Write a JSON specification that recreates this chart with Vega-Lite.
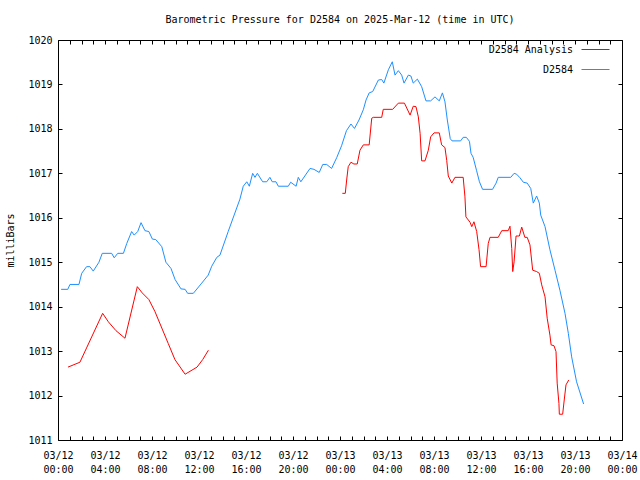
{
  "$schema": "https://vega.github.io/schema/vega-lite/v6.json",
  "width": 564,
  "height": 400,
  "autosize": {"type": "none"},
  "padding": {"left": 58, "top": 40, "right": 18, "bottom": 40},
  "background": "white",
  "config": {
    "font": "DejaVu Sans Mono",
    "view": {"stroke": "black", "strokeWidth": 1},
    "axis": {
      "domain": false,
      "grid": false,
      "tickColor": "black",
      "tickSize": -4,
      "tickWidth": 1,
      "labelColor": "black",
      "labelFont": "DejaVu Sans Mono",
      "labelFontSize": 10,
      "titleFont": "DejaVu Sans Mono",
      "titleFontSize": 10,
      "titleFontWeight": "normal",
      "titleColor": "black"
    }
  },
  "title": {
    "text": "Barometric Pressure for D2584 on 2025-Mar-12 (time in UTC)",
    "font": "DejaVu Sans Mono",
    "fontSize": 10,
    "fontWeight": "normal",
    "color": "black",
    "anchor": "middle",
    "frame": "group",
    "offset": 10
  },
  "data": {
    "values": [
      {"series": "D2584", "seg": "b", "t": "2025-03-12T00:16:00Z", "mb": 1014.39},
      {"series": "D2584", "seg": "b", "t": "2025-03-12T00:50:00Z", "mb": 1014.39},
      {"series": "D2584", "seg": "b", "t": "2025-03-12T01:01:00Z", "mb": 1014.5},
      {"series": "D2584", "seg": "b", "t": "2025-03-12T01:47:00Z", "mb": 1014.5},
      {"series": "D2584", "seg": "b", "t": "2025-03-12T02:01:00Z", "mb": 1014.75},
      {"series": "D2584", "seg": "b", "t": "2025-03-12T02:26:00Z", "mb": 1014.9},
      {"series": "D2584", "seg": "b", "t": "2025-03-12T02:43:00Z", "mb": 1014.9},
      {"series": "D2584", "seg": "b", "t": "2025-03-12T03:00:00Z", "mb": 1014.8},
      {"series": "D2584", "seg": "b", "t": "2025-03-12T03:29:00Z", "mb": 1015.0},
      {"series": "D2584", "seg": "b", "t": "2025-03-12T03:46:00Z", "mb": 1015.2},
      {"series": "D2584", "seg": "b", "t": "2025-03-12T04:34:00Z", "mb": 1015.2},
      {"series": "D2584", "seg": "b", "t": "2025-03-12T04:47:00Z", "mb": 1015.1},
      {"series": "D2584", "seg": "b", "t": "2025-03-12T05:05:00Z", "mb": 1015.2},
      {"series": "D2584", "seg": "b", "t": "2025-03-12T05:34:00Z", "mb": 1015.2},
      {"series": "D2584", "seg": "b", "t": "2025-03-12T05:51:00Z", "mb": 1015.42},
      {"series": "D2584", "seg": "b", "t": "2025-03-12T06:16:00Z", "mb": 1015.69},
      {"series": "D2584", "seg": "b", "t": "2025-03-12T06:29:00Z", "mb": 1015.61},
      {"series": "D2584", "seg": "b", "t": "2025-03-12T06:47:00Z", "mb": 1015.69},
      {"series": "D2584", "seg": "b", "t": "2025-03-12T07:04:00Z", "mb": 1015.89},
      {"series": "D2584", "seg": "b", "t": "2025-03-12T07:24:00Z", "mb": 1015.71},
      {"series": "D2584", "seg": "b", "t": "2025-03-12T07:44:00Z", "mb": 1015.69},
      {"series": "D2584", "seg": "b", "t": "2025-03-12T08:02:00Z", "mb": 1015.52},
      {"series": "D2584", "seg": "b", "t": "2025-03-12T08:19:00Z", "mb": 1015.51},
      {"series": "D2584", "seg": "b", "t": "2025-03-12T08:50:00Z", "mb": 1015.35},
      {"series": "D2584", "seg": "b", "t": "2025-03-12T09:11:00Z", "mb": 1015.0},
      {"series": "D2584", "seg": "b", "t": "2025-03-12T09:37:00Z", "mb": 1014.86},
      {"series": "D2584", "seg": "b", "t": "2025-03-12T09:58:00Z", "mb": 1014.61},
      {"series": "D2584", "seg": "b", "t": "2025-03-12T10:28:00Z", "mb": 1014.4},
      {"series": "D2584", "seg": "b", "t": "2025-03-12T10:49:00Z", "mb": 1014.39},
      {"series": "D2584", "seg": "b", "t": "2025-03-12T11:02:00Z", "mb": 1014.3},
      {"series": "D2584", "seg": "b", "t": "2025-03-12T11:31:00Z", "mb": 1014.3},
      {"series": "D2584", "seg": "b", "t": "2025-03-12T12:14:00Z", "mb": 1014.53},
      {"series": "D2584", "seg": "b", "t": "2025-03-12T12:47:00Z", "mb": 1014.71},
      {"series": "D2584", "seg": "b", "t": "2025-03-12T13:05:00Z", "mb": 1014.91},
      {"series": "D2584", "seg": "b", "t": "2025-03-12T13:31:00Z", "mb": 1015.11},
      {"series": "D2584", "seg": "b", "t": "2025-03-12T13:47:00Z", "mb": 1015.16},
      {"series": "D2584", "seg": "b", "t": "2025-03-12T14:29:00Z", "mb": 1015.69},
      {"series": "D2584", "seg": "b", "t": "2025-03-12T15:29:00Z", "mb": 1016.42},
      {"series": "D2584", "seg": "b", "t": "2025-03-12T15:46:00Z", "mb": 1016.71},
      {"series": "D2584", "seg": "b", "t": "2025-03-12T16:04:00Z", "mb": 1016.81},
      {"series": "D2584", "seg": "b", "t": "2025-03-12T16:17:00Z", "mb": 1016.71},
      {"series": "D2584", "seg": "b", "t": "2025-03-12T16:34:00Z", "mb": 1017.0},
      {"series": "D2584", "seg": "b", "t": "2025-03-12T16:46:00Z", "mb": 1016.91},
      {"series": "D2584", "seg": "b", "t": "2025-03-12T16:58:00Z", "mb": 1017.0},
      {"series": "D2584", "seg": "b", "t": "2025-03-12T17:25:00Z", "mb": 1016.81},
      {"series": "D2584", "seg": "b", "t": "2025-03-12T17:46:00Z", "mb": 1016.81},
      {"series": "D2584", "seg": "b", "t": "2025-03-12T18:02:00Z", "mb": 1016.91},
      {"series": "D2584", "seg": "b", "t": "2025-03-12T18:14:00Z", "mb": 1016.81},
      {"series": "D2584", "seg": "b", "t": "2025-03-12T18:33:00Z", "mb": 1016.81},
      {"series": "D2584", "seg": "b", "t": "2025-03-12T18:45:00Z", "mb": 1016.71},
      {"series": "D2584", "seg": "b", "t": "2025-03-12T19:36:00Z", "mb": 1016.71},
      {"series": "D2584", "seg": "b", "t": "2025-03-12T19:48:00Z", "mb": 1016.8},
      {"series": "D2584", "seg": "b", "t": "2025-03-12T20:16:00Z", "mb": 1016.71},
      {"series": "D2584", "seg": "b", "t": "2025-03-12T20:27:00Z", "mb": 1016.91},
      {"series": "D2584", "seg": "b", "t": "2025-03-12T20:40:00Z", "mb": 1016.81},
      {"series": "D2584", "seg": "b", "t": "2025-03-12T21:27:00Z", "mb": 1017.11},
      {"series": "D2584", "seg": "b", "t": "2025-03-12T21:47:00Z", "mb": 1017.09},
      {"series": "D2584", "seg": "b", "t": "2025-03-12T22:14:00Z", "mb": 1017.02},
      {"series": "D2584", "seg": "b", "t": "2025-03-12T22:32:00Z", "mb": 1017.2},
      {"series": "D2584", "seg": "b", "t": "2025-03-12T22:52:00Z", "mb": 1017.2},
      {"series": "D2584", "seg": "b", "t": "2025-03-12T23:17:00Z", "mb": 1017.11},
      {"series": "D2584", "seg": "b", "t": "2025-03-12T23:43:00Z", "mb": 1017.35},
      {"series": "D2584", "seg": "b", "t": "2025-03-13T00:08:00Z", "mb": 1017.62},
      {"series": "D2584", "seg": "b", "t": "2025-03-13T00:33:00Z", "mb": 1017.96},
      {"series": "D2584", "seg": "b", "t": "2025-03-13T00:56:00Z", "mb": 1018.11},
      {"series": "D2584", "seg": "b", "t": "2025-03-13T01:14:00Z", "mb": 1018.01},
      {"series": "D2584", "seg": "b", "t": "2025-03-13T01:37:00Z", "mb": 1018.2},
      {"series": "D2584", "seg": "b", "t": "2025-03-13T01:59:00Z", "mb": 1018.43},
      {"series": "D2584", "seg": "b", "t": "2025-03-13T02:13:00Z", "mb": 1018.65},
      {"series": "D2584", "seg": "b", "t": "2025-03-13T02:29:00Z", "mb": 1018.81},
      {"series": "D2584", "seg": "b", "t": "2025-03-13T02:47:00Z", "mb": 1018.84},
      {"series": "D2584", "seg": "b", "t": "2025-03-13T03:16:00Z", "mb": 1019.1},
      {"series": "D2584", "seg": "b", "t": "2025-03-13T03:33:00Z", "mb": 1019.11},
      {"series": "D2584", "seg": "b", "t": "2025-03-13T03:44:00Z", "mb": 1019.03},
      {"series": "D2584", "seg": "b", "t": "2025-03-13T04:07:00Z", "mb": 1019.33},
      {"series": "D2584", "seg": "b", "t": "2025-03-13T04:27:00Z", "mb": 1019.51},
      {"series": "D2584", "seg": "b", "t": "2025-03-13T04:41:00Z", "mb": 1019.21},
      {"series": "D2584", "seg": "b", "t": "2025-03-13T04:58:00Z", "mb": 1019.31},
      {"series": "D2584", "seg": "b", "t": "2025-03-13T05:15:00Z", "mb": 1019.21},
      {"series": "D2584", "seg": "b", "t": "2025-03-13T05:27:00Z", "mb": 1019.03},
      {"series": "D2584", "seg": "b", "t": "2025-03-13T05:49:00Z", "mb": 1019.21},
      {"series": "D2584", "seg": "b", "t": "2025-03-13T06:02:00Z", "mb": 1019.19},
      {"series": "D2584", "seg": "b", "t": "2025-03-13T06:14:00Z", "mb": 1019.03},
      {"series": "D2584", "seg": "b", "t": "2025-03-13T06:35:00Z", "mb": 1019.12},
      {"series": "D2584", "seg": "b", "t": "2025-03-13T06:57:00Z", "mb": 1018.95},
      {"series": "D2584", "seg": "b", "t": "2025-03-13T07:19:00Z", "mb": 1018.63},
      {"series": "D2584", "seg": "b", "t": "2025-03-13T07:43:00Z", "mb": 1018.63},
      {"series": "D2584", "seg": "b", "t": "2025-03-13T08:05:00Z", "mb": 1018.72},
      {"series": "D2584", "seg": "b", "t": "2025-03-13T08:27:00Z", "mb": 1018.63},
      {"series": "D2584", "seg": "b", "t": "2025-03-13T08:43:00Z", "mb": 1018.81},
      {"series": "D2584", "seg": "b", "t": "2025-03-13T08:56:00Z", "mb": 1018.61},
      {"series": "D2584", "seg": "b", "t": "2025-03-13T09:08:00Z", "mb": 1018.2},
      {"series": "D2584", "seg": "b", "t": "2025-03-13T09:23:00Z", "mb": 1017.78},
      {"series": "D2584", "seg": "b", "t": "2025-03-13T09:32:00Z", "mb": 1017.73},
      {"series": "D2584", "seg": "b", "t": "2025-03-13T10:16:00Z", "mb": 1017.73},
      {"series": "D2584", "seg": "b", "t": "2025-03-13T10:29:00Z", "mb": 1017.81},
      {"series": "D2584", "seg": "b", "t": "2025-03-13T10:45:00Z", "mb": 1017.81},
      {"series": "D2584", "seg": "b", "t": "2025-03-13T11:01:00Z", "mb": 1017.72},
      {"series": "D2584", "seg": "b", "t": "2025-03-13T11:09:00Z", "mb": 1017.45},
      {"series": "D2584", "seg": "b", "t": "2025-03-13T11:20:00Z", "mb": 1017.36},
      {"series": "D2584", "seg": "b", "t": "2025-03-13T11:37:00Z", "mb": 1017.07},
      {"series": "D2584", "seg": "b", "t": "2025-03-13T11:52:00Z", "mb": 1016.81},
      {"series": "D2584", "seg": "b", "t": "2025-03-13T12:08:00Z", "mb": 1016.64},
      {"series": "D2584", "seg": "b", "t": "2025-03-13T12:59:00Z", "mb": 1016.64},
      {"series": "D2584", "seg": "b", "t": "2025-03-13T13:17:00Z", "mb": 1016.78},
      {"series": "D2584", "seg": "b", "t": "2025-03-13T13:28:00Z", "mb": 1016.91},
      {"series": "D2584", "seg": "b", "t": "2025-03-13T14:32:00Z", "mb": 1016.91},
      {"series": "D2584", "seg": "b", "t": "2025-03-13T14:49:00Z", "mb": 1017.0},
      {"series": "D2584", "seg": "b", "t": "2025-03-13T15:02:00Z", "mb": 1016.98},
      {"series": "D2584", "seg": "b", "t": "2025-03-13T15:19:00Z", "mb": 1016.9},
      {"series": "D2584", "seg": "b", "t": "2025-03-13T15:36:00Z", "mb": 1016.8},
      {"series": "D2584", "seg": "b", "t": "2025-03-13T15:56:00Z", "mb": 1016.78},
      {"series": "D2584", "seg": "b", "t": "2025-03-13T16:14:00Z", "mb": 1016.66},
      {"series": "D2584", "seg": "b", "t": "2025-03-13T16:27:00Z", "mb": 1016.33},
      {"series": "D2584", "seg": "b", "t": "2025-03-13T16:44:00Z", "mb": 1016.49},
      {"series": "D2584", "seg": "b", "t": "2025-03-13T16:58:00Z", "mb": 1016.33},
      {"series": "D2584", "seg": "b", "t": "2025-03-13T17:05:00Z", "mb": 1016.06},
      {"series": "D2584", "seg": "b", "t": "2025-03-13T17:27:00Z", "mb": 1015.8},
      {"series": "D2584", "seg": "b", "t": "2025-03-13T17:52:00Z", "mb": 1015.28},
      {"series": "D2584", "seg": "b", "t": "2025-03-13T18:18:00Z", "mb": 1014.82},
      {"series": "D2584", "seg": "b", "t": "2025-03-13T18:43:00Z", "mb": 1014.37},
      {"series": "D2584", "seg": "b", "t": "2025-03-13T19:09:00Z", "mb": 1013.85},
      {"series": "D2584", "seg": "b", "t": "2025-03-13T19:26:00Z", "mb": 1013.4},
      {"series": "D2584", "seg": "b", "t": "2025-03-13T19:43:00Z", "mb": 1012.87},
      {"series": "D2584", "seg": "b", "t": "2025-03-13T20:08:00Z", "mb": 1012.31},
      {"series": "D2584", "seg": "b", "t": "2025-03-13T20:44:00Z", "mb": 1011.81},

      {"series": "D2584 Analysis", "seg": "r1", "t": "2025-03-12T00:51:00Z", "mb": 1012.64},
      {"series": "D2584 Analysis", "seg": "r1", "t": "2025-03-12T01:52:00Z", "mb": 1012.75},
      {"series": "D2584 Analysis", "seg": "r1", "t": "2025-03-12T03:48:00Z", "mb": 1013.85},
      {"series": "D2584 Analysis", "seg": "r1", "t": "2025-03-12T04:17:00Z", "mb": 1013.66},
      {"series": "D2584 Analysis", "seg": "r1", "t": "2025-03-12T04:56:00Z", "mb": 1013.46},
      {"series": "D2584 Analysis", "seg": "r1", "t": "2025-03-12T05:42:00Z", "mb": 1013.29},
      {"series": "D2584 Analysis", "seg": "r1", "t": "2025-03-12T06:45:00Z", "mb": 1014.45},
      {"series": "D2584 Analysis", "seg": "r1", "t": "2025-03-12T07:10:00Z", "mb": 1014.31},
      {"series": "D2584 Analysis", "seg": "r1", "t": "2025-03-12T07:44:00Z", "mb": 1014.16},
      {"series": "D2584 Analysis", "seg": "r1", "t": "2025-03-12T08:15:00Z", "mb": 1013.89},
      {"series": "D2584 Analysis", "seg": "r1", "t": "2025-03-12T09:23:00Z", "mb": 1013.17},
      {"series": "D2584 Analysis", "seg": "r1", "t": "2025-03-12T09:57:00Z", "mb": 1012.81},
      {"series": "D2584 Analysis", "seg": "r1", "t": "2025-03-12T10:49:00Z", "mb": 1012.48},
      {"series": "D2584 Analysis", "seg": "r1", "t": "2025-03-12T11:50:00Z", "mb": 1012.64},
      {"series": "D2584 Analysis", "seg": "r1", "t": "2025-03-12T12:19:00Z", "mb": 1012.81},
      {"series": "D2584 Analysis", "seg": "r1", "t": "2025-03-12T12:48:00Z", "mb": 1013.02},

      {"series": "D2584 Analysis", "seg": "r2", "t": "2025-03-13T00:12:00Z", "mb": 1016.55},
      {"series": "D2584 Analysis", "seg": "r2", "t": "2025-03-13T00:27:00Z", "mb": 1016.55},
      {"series": "D2584 Analysis", "seg": "r2", "t": "2025-03-13T00:34:00Z", "mb": 1016.85},
      {"series": "D2584 Analysis", "seg": "r2", "t": "2025-03-13T00:42:00Z", "mb": 1017.15},
      {"series": "D2584 Analysis", "seg": "r2", "t": "2025-03-13T00:56:00Z", "mb": 1017.25},
      {"series": "D2584 Analysis", "seg": "r2", "t": "2025-03-13T01:11:00Z", "mb": 1017.21},
      {"series": "D2584 Analysis", "seg": "r2", "t": "2025-03-13T01:28:00Z", "mb": 1017.21},
      {"series": "D2584 Analysis", "seg": "r2", "t": "2025-03-13T01:42:00Z", "mb": 1017.52},
      {"series": "D2584 Analysis", "seg": "r2", "t": "2025-03-13T01:59:00Z", "mb": 1017.64},
      {"series": "D2584 Analysis", "seg": "r2", "t": "2025-03-13T02:29:00Z", "mb": 1017.64},
      {"series": "D2584 Analysis", "seg": "r2", "t": "2025-03-13T02:42:00Z", "mb": 1018.24},
      {"series": "D2584 Analysis", "seg": "r2", "t": "2025-03-13T02:50:00Z", "mb": 1018.26},
      {"series": "D2584 Analysis", "seg": "r2", "t": "2025-03-13T03:33:00Z", "mb": 1018.26},
      {"series": "D2584 Analysis", "seg": "r2", "t": "2025-03-13T03:41:00Z", "mb": 1018.44},
      {"series": "D2584 Analysis", "seg": "r2", "t": "2025-03-13T04:29:00Z", "mb": 1018.44},
      {"series": "D2584 Analysis", "seg": "r2", "t": "2025-03-13T04:58:00Z", "mb": 1018.58},
      {"series": "D2584 Analysis", "seg": "r2", "t": "2025-03-13T05:29:00Z", "mb": 1018.58},
      {"series": "D2584 Analysis", "seg": "r2", "t": "2025-03-13T05:58:00Z", "mb": 1018.31},
      {"series": "D2584 Analysis", "seg": "r2", "t": "2025-03-13T06:14:00Z", "mb": 1018.51},
      {"series": "D2584 Analysis", "seg": "r2", "t": "2025-03-13T06:28:00Z", "mb": 1018.5},
      {"series": "D2584 Analysis", "seg": "r2", "t": "2025-03-13T06:40:00Z", "mb": 1018.27},
      {"series": "D2584 Analysis", "seg": "r2", "t": "2025-03-13T06:49:00Z", "mb": 1017.9},
      {"series": "D2584 Analysis", "seg": "r2", "t": "2025-03-13T06:57:00Z", "mb": 1017.28},
      {"series": "D2584 Analysis", "seg": "r2", "t": "2025-03-13T07:14:00Z", "mb": 1017.28},
      {"series": "D2584 Analysis", "seg": "r2", "t": "2025-03-13T07:31:00Z", "mb": 1017.52},
      {"series": "D2584 Analysis", "seg": "r2", "t": "2025-03-13T07:43:00Z", "mb": 1017.82},
      {"series": "D2584 Analysis", "seg": "r2", "t": "2025-03-13T08:00:00Z", "mb": 1017.91},
      {"series": "D2584 Analysis", "seg": "r2", "t": "2025-03-13T08:27:00Z", "mb": 1017.91},
      {"series": "D2584 Analysis", "seg": "r2", "t": "2025-03-13T08:39:00Z", "mb": 1017.64},
      {"series": "D2584 Analysis", "seg": "r2", "t": "2025-03-13T08:56:00Z", "mb": 1017.58},
      {"series": "D2584 Analysis", "seg": "r2", "t": "2025-03-13T09:05:00Z", "mb": 1017.29},
      {"series": "D2584 Analysis", "seg": "r2", "t": "2025-03-13T09:13:00Z", "mb": 1016.94},
      {"series": "D2584 Analysis", "seg": "r2", "t": "2025-03-13T09:31:00Z", "mb": 1016.78},
      {"series": "D2584 Analysis", "seg": "r2", "t": "2025-03-13T09:47:00Z", "mb": 1016.91},
      {"series": "D2584 Analysis", "seg": "r2", "t": "2025-03-13T10:29:00Z", "mb": 1016.91},
      {"series": "D2584 Analysis", "seg": "r2", "t": "2025-03-13T10:38:00Z", "mb": 1016.47},
      {"series": "D2584 Analysis", "seg": "r2", "t": "2025-03-13T10:43:00Z", "mb": 1016.02},
      {"series": "D2584 Analysis", "seg": "r2", "t": "2025-03-13T11:04:00Z", "mb": 1015.9},
      {"series": "D2584 Analysis", "seg": "r2", "t": "2025-03-13T11:13:00Z", "mb": 1015.8},
      {"series": "D2584 Analysis", "seg": "r2", "t": "2025-03-13T11:24:00Z", "mb": 1015.91},
      {"series": "D2584 Analysis", "seg": "r2", "t": "2025-03-13T11:38:00Z", "mb": 1015.69},
      {"series": "D2584 Analysis", "seg": "r2", "t": "2025-03-13T11:50:00Z", "mb": 1015.28},
      {"series": "D2584 Analysis", "seg": "r2", "t": "2025-03-13T11:58:00Z", "mb": 1014.9},
      {"series": "D2584 Analysis", "seg": "r2", "t": "2025-03-13T12:26:00Z", "mb": 1014.9},
      {"series": "D2584 Analysis", "seg": "r2", "t": "2025-03-13T12:37:00Z", "mb": 1015.42},
      {"series": "D2584 Analysis", "seg": "r2", "t": "2025-03-13T12:46:00Z", "mb": 1015.56},
      {"series": "D2584 Analysis", "seg": "r2", "t": "2025-03-13T13:28:00Z", "mb": 1015.56},
      {"series": "D2584 Analysis", "seg": "r2", "t": "2025-03-13T13:46:00Z", "mb": 1015.71},
      {"series": "D2584 Analysis", "seg": "r2", "t": "2025-03-13T14:19:00Z", "mb": 1015.71},
      {"series": "D2584 Analysis", "seg": "r2", "t": "2025-03-13T14:28:00Z", "mb": 1015.81},
      {"series": "D2584 Analysis", "seg": "r2", "t": "2025-03-13T14:37:00Z", "mb": 1015.31},
      {"series": "D2584 Analysis", "seg": "r2", "t": "2025-03-13T14:42:00Z", "mb": 1014.79},
      {"series": "D2584 Analysis", "seg": "r2", "t": "2025-03-13T14:49:00Z", "mb": 1015.01},
      {"series": "D2584 Analysis", "seg": "r2", "t": "2025-03-13T14:59:00Z", "mb": 1015.59},
      {"series": "D2584 Analysis", "seg": "r2", "t": "2025-03-13T15:16:00Z", "mb": 1015.59},
      {"series": "D2584 Analysis", "seg": "r2", "t": "2025-03-13T15:28:00Z", "mb": 1015.79},
      {"series": "D2584 Analysis", "seg": "r2", "t": "2025-03-13T15:44:00Z", "mb": 1015.56},
      {"series": "D2584 Analysis", "seg": "r2", "t": "2025-03-13T15:56:00Z", "mb": 1015.56},
      {"series": "D2584 Analysis", "seg": "r2", "t": "2025-03-13T16:10:00Z", "mb": 1015.39},
      {"series": "D2584 Analysis", "seg": "r2", "t": "2025-03-13T16:24:00Z", "mb": 1014.82},
      {"series": "D2584 Analysis", "seg": "r2", "t": "2025-03-13T16:44:00Z", "mb": 1014.79},
      {"series": "D2584 Analysis", "seg": "r2", "t": "2025-03-13T16:58:00Z", "mb": 1014.75},
      {"series": "D2584 Analysis", "seg": "r2", "t": "2025-03-13T17:10:00Z", "mb": 1014.49},
      {"series": "D2584 Analysis", "seg": "r2", "t": "2025-03-13T17:27:00Z", "mb": 1014.22},
      {"series": "D2584 Analysis", "seg": "r2", "t": "2025-03-13T17:38:00Z", "mb": 1013.74},
      {"series": "D2584 Analysis", "seg": "r2", "t": "2025-03-13T17:52:00Z", "mb": 1013.36},
      {"series": "D2584 Analysis", "seg": "r2", "t": "2025-03-13T17:58:00Z", "mb": 1013.14},
      {"series": "D2584 Analysis", "seg": "r2", "t": "2025-03-13T18:13:00Z", "mb": 1013.12},
      {"series": "D2584 Analysis", "seg": "r2", "t": "2025-03-13T18:23:00Z", "mb": 1012.99},
      {"series": "D2584 Analysis", "seg": "r2", "t": "2025-03-13T18:29:00Z", "mb": 1012.28},
      {"series": "D2584 Analysis", "seg": "r2", "t": "2025-03-13T18:38:00Z", "mb": 1011.82},
      {"series": "D2584 Analysis", "seg": "r2", "t": "2025-03-13T18:40:00Z", "mb": 1011.58},
      {"series": "D2584 Analysis", "seg": "r2", "t": "2025-03-13T18:57:00Z", "mb": 1011.58},
      {"series": "D2584 Analysis", "seg": "r2", "t": "2025-03-13T19:05:00Z", "mb": 1011.9},
      {"series": "D2584 Analysis", "seg": "r2", "t": "2025-03-13T19:14:00Z", "mb": 1012.24},
      {"series": "D2584 Analysis", "seg": "r2", "t": "2025-03-13T19:28:00Z", "mb": 1012.35}
    ]
  },
  "layer": [
    {
      "mark": {"type": "line", "strokeWidth": 1, "interpolate": "linear"},
      "encoding": {
        "x": {
          "field": "t",
          "type": "temporal",
          "scale": {
            "type": "utc",
            "domain": [1741737600000, 1741910400000]
          },
          "axis": {
            "orient": "bottom",
            "title": null,
            "tickCount": 48,
            "labelOverlap": false,
            "labelBound": false,
            "labelFlush": false,
            "labelPadding": 14,
            "labelLineHeight": 14,
            "labelExpr": "utcFormat(datum.value, '%H') % 4 == 0 ? [utcFormat(datum.value, '%m/%d'), utcFormat(datum.value, '%H:%M')] : ''"
          }
        },
        "y": {
          "field": "mb",
          "type": "quantitative",
          "scale": {"domain": [1011, 1020], "nice": false, "zero": false},
          "axis": {
            "orient": "left",
            "title": "milliBars",
            "values": [1011, 1012, 1013, 1014, 1015, 1016, 1017, 1018, 1019, 1020],
            "format": "d",
            "labelPadding": 10,
            "titlePadding": 12
          }
        },
        "color": {
          "field": "series",
          "type": "nominal",
          "scale": {"domain": ["D2584 Analysis", "D2584"], "range": ["#ff0000", "#1e90ff"]},
          "legend": {
            "title": null,
            "orient": "none",
            "legendX": 523,
            "legendY": -5,
            "padding": 0,
            "symbolType": "stroke",
            "symbolSize": 784,
            "symbolStrokeWidth": 1,
            "labelAlign": "right",
            "labelOffset": -37,
            "labelFont": "DejaVu Sans Mono",
            "labelFontSize": 10,
            "labelColor": "black",
            "rowPadding": -6
          }
        },
        "detail": {"field": "seg", "type": "nominal"}
      }
    },
    {
      "mark": {"type": "line", "strokeOpacity": 0},
      "encoding": {
        "x": {
          "field": "t",
          "type": "temporal",
          "axis": {
            "orient": "top",
            "title": null,
            "labels": false,
            "tickCount": 48
          }
        },
        "y": {
          "field": "mb",
          "type": "quantitative",
          "axis": {
            "orient": "right",
            "title": null,
            "labels": false,
            "values": [1011, 1012, 1013, 1014, 1015, 1016, 1017, 1018, 1019, 1020]
          }
        },
        "detail": {"field": "seg", "type": "nominal"}
      }
    }
  ],
  "resolve": {"axis": {"x": "independent", "y": "independent"}}
}
